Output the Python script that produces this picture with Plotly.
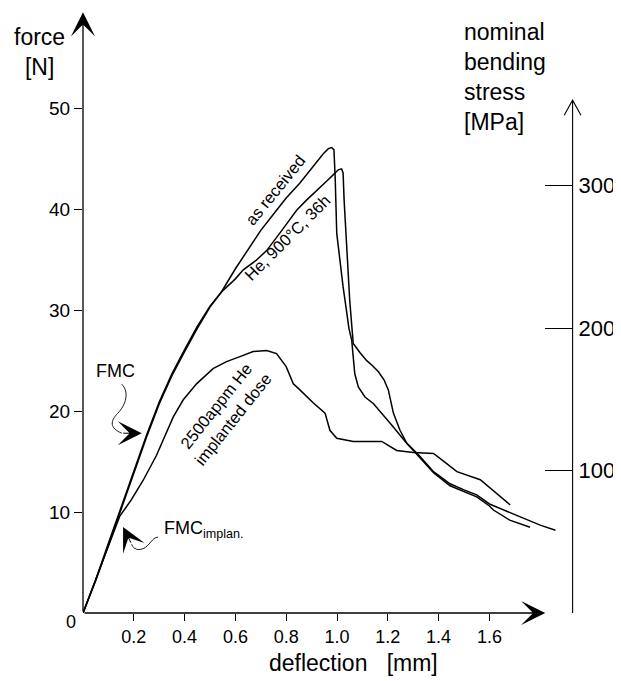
import plotly.graph_objects as go

# deflection [mm] and force [N]
recv_x = [0, 0.05, 0.10, 0.15, 0.20, 0.25, 0.30, 0.35, 0.40, 0.45,
          0.50, 0.545, 0.60, 0.657, 0.70, 0.762, 0.80, 0.854, 0.90, 0.946,
          0.966, 0.979, 0.988, 0.993, 0.999, 1.012, 1.024, 1.037, 1.047, 1.058,
          1.064, 1.070, 1.084, 1.110, 1.143, 1.176, 1.216, 1.275, 1.32, 1.38,
          1.445, 1.50, 1.55, 1.60, 1.642, 1.70, 1.75, 1.80, 1.86]
recv_f = [0, 3.2, 6.7, 10.3, 13.8, 17.4, 20.7, 23.5, 25.9, 28.2,
          30.3, 31.8, 34.1, 36.3, 37.9, 39.9, 41.1, 42.6, 44.1, 45.5,
          46.0, 46.1, 45.9, 43.0, 37.6, 34.5, 32.3, 30.0, 28.2, 27.0,
          25.5, 23.7, 22.4, 21.4, 20.75, 19.8, 18.6, 16.8, 15.7, 14.0,
          12.8, 12.2, 11.7, 10.8, 10.35, 9.8, 9.2, 8.7, 8.2]

he_x = [0, 0.05, 0.10, 0.15, 0.20, 0.25, 0.30, 0.35, 0.40, 0.45,
        0.50, 0.545, 0.60, 0.631, 0.68, 0.723, 0.78, 0.841, 0.88, 0.92,
        0.96, 0.985, 1.005, 1.018, 1.024, 1.028, 1.038, 1.05, 1.058, 1.064,
        1.09, 1.117, 1.14, 1.163, 1.185, 1.202, 1.222, 1.248, 1.275, 1.33,
        1.38, 1.445, 1.50, 1.55, 1.60, 1.616, 1.68, 1.76]
he_f = [0, 3.3, 6.9, 10.5, 14.0, 17.6, 20.9, 23.7, 26.1, 28.4,
        30.4, 31.8, 33.1, 34.0, 34.9, 35.9, 37.8, 39.9, 40.9, 41.9,
        42.8, 43.4, 43.9, 44.0, 43.6, 40.9, 36.0, 31.0, 28.5, 26.7,
        25.8, 25.0, 24.5, 23.9, 23.1, 22.1, 19.8, 18.1, 16.8, 15.3,
        13.9, 12.6, 12.0, 11.5, 10.6, 10.2, 9.2, 8.5]

impl_x = [0, 0.05, 0.10, 0.145, 0.19, 0.237, 0.289, 0.315, 0.355, 0.394,
          0.447, 0.512, 0.565, 0.618, 0.67, 0.723, 0.762, 0.80, 0.828, 0.854,
          0.894, 0.907, 0.953, 0.972, 0.999, 1.064, 1.176, 1.235, 1.30, 1.38,
          1.432, 1.472, 1.564, 1.63, 1.682]
impl_f = [0, 3.3, 6.8, 9.6, 11.2, 13.15, 15.6, 17.1, 19.4, 21.1,
          22.7, 24.2, 24.9, 25.4, 25.9, 26.0, 25.7, 24.4, 22.7, 22.1,
          21.1, 20.8, 19.8, 18.1, 17.3, 17.0, 17.0, 16.1, 15.9, 15.8,
          14.8, 14.0, 13.2, 11.8, 10.7]

x_ticks = [0.2, 0.4, 0.6, 0.8, 1.0, 1.2, 1.4, 1.6]
f_ticks = [10, 20, 30, 40, 50]
s_ticks = [100, 200, 300]

MPA_PER_N = 7.086      # nominal bending stress per newton
FONT = "Liberation Sans, Arial, Helvetica, sans-serif"

# the page body adds 8px around the figure; plot box in page pixels
BODY = 8
PLOT_L, PLOT_T, PLOT_B = 83.3, 8.0, 612.7
FIG_W, FIG_H = 621 - BODY, 681 - BODY
X_MAX = 2.0
W = X_MAX * 253.7
H = PLOT_B - PLOT_T
F_MAX = H / 10.09
X_RIGHT = 1.9275       # where the stress axis stands
ML = PLOT_L - BODY
MR = FIG_W - ML - W
MT = PLOT_T - BODY
MB = FIG_H - MT - H


def paper_x(p):
    return (p - PLOT_L) / W


def paper_y(p):
    return (PLOT_B - p) / H


fig = go.Figure()
for xs, fs in [(recv_x, recv_f), (he_x, he_f), (impl_x, impl_f)]:
    fig.add_trace(go.Scatter(x=xs, y=fs, mode="lines",
                             line=dict(color="black", width=1.5),
                             hoverinfo="skip", showlegend=False))
# registers the stress axis
fig.add_trace(go.Scatter(x=[None], y=[None], yaxis="y2", mode="lines",
                         hoverinfo="skip", showlegend=False))

fig.update_layout(
    width=FIG_W, height=FIG_H,
    margin=dict(l=ML, r=MR, t=MT, b=MB, pad=0),
    paper_bgcolor="white", plot_bgcolor="white",
    font=dict(family=FONT, color="black"),
    xaxis=dict(range=[0, X_MAX], tickvals=x_ticks, tickformat=".1f",
               ticks="outside", ticklen=7, tickwidth=1.2, tickcolor="black",
               showline=False, showgrid=False, zeroline=False,
               tickfont=dict(family=FONT, size=18, color="black"),
               automargin=False),
    yaxis=dict(range=[0, F_MAX], tickvals=f_ticks,
               ticks="outside", ticklen=8, tickwidth=1.2, tickcolor="black",
               showline=False, showgrid=False, zeroline=False,
               tickfont=dict(family=FONT, size=19, color="black"),
               automargin=False),
    yaxis2=dict(range=[0, F_MAX * MPA_PER_N], tickvals=s_ticks,
                overlaying="y", anchor="free", position=X_RIGHT / X_MAX,
                side="right", ticks="inside", ticklen=28, tickwidth=1,
                tickcolor="black", showline=False, showgrid=False,
                zeroline=False, ticklabelstandoff=5,
                tickfont=dict(family=FONT, size=22, color="black"),
                automargin=False),
)

# axis lines with arrowheads
arrow = dict(showarrow=True, arrowcolor="black", axref="x", ayref="y", text="")
fig.add_annotation(x=0, y=59.5, ax=0, ay=0, arrowhead=3, arrowwidth=1.3,
                   arrowsize=3.1, **arrow)
fig.add_annotation(x=1.82, y=0, ax=0, ay=0, arrowhead=3, arrowwidth=1.3,
                   arrowsize=3.1, **arrow)
fig.add_shape(type="path", xref="x", yref="y",
              path=f"M{X_RIGHT},0 L{X_RIGHT},50.8 "
                   f"M{X_RIGHT - 0.033},49.3 L{X_RIGHT},50.8 L{X_RIGHT + 0.033},49.3",
              line=dict(color="black", width=1.1))

# FMC pointers
fig.add_shape(type="path", xref="x", yref="y",
              path="M0.1525,22.67 C0.184,21.87 0.168,20.58 0.137,19.79 "
                   "S0.105,18.31 0.1525,17.81",
              line=dict(color="black", width=0.9))
fig.add_annotation(x=0.2314, y=17.81, ax=0.1525, ay=17.81, arrowhead=3,
                   arrowwidth=1, arrowsize=4, **arrow)
fig.add_shape(type="path", xref="x", yref="y",
              path="M0.2956,7.52 C0.2707,7.49 0.2629,6.60 0.2353,6.36 "
                   "S0.1958,6.51 0.1919,6.81",
              line=dict(color="black", width=0.9))
fig.add_annotation(x=0.1577, y=8.52, ax=0.1919, ay=6.81, arrowhead=3,
                   arrowwidth=1, arrowsize=4, **arrow)

lab = dict(showarrow=False, font=dict(family=FONT, size=16.5, color="black"))
fig.add_annotation(x=0.756, y=41.9, text="as received", textangle=-51, **lab)
fig.add_annotation(x=0.807, y=37.2, text="He, 900°C, 36h", textangle=-45, **lab)
fig.add_annotation(x=0.555, y=19.9, text="2500appm He<br>implanted dose",
                   textangle=-51.5, **lab)

big = dict(showarrow=False, xref="paper", yref="paper", yanchor="middle",
           font=dict(family=FONT, size=18, color="black"))
fig.add_annotation(x=paper_x(116), y=paper_y(371), xanchor="center",
                   text="FMC", **big)
fig.add_annotation(x=paper_x(162), y=paper_y(529), xanchor="left",
                   text="FMC<sub>implan.</sub>", **big)
fig.add_annotation(x=paper_x(71), y=paper_y(622), xanchor="center",
                   text="0", **big)

title = dict(showarrow=False, xref="paper", yref="paper", yanchor="middle",
             font=dict(family=FONT, size=23, color="black"))
fig.add_annotation(x=paper_x(40), y=paper_y(52), xanchor="center",
                   text="force<br>[N]", align="center", **title)
fig.add_annotation(x=paper_x(462), y=paper_y(77), xanchor="left",
                   text="nominal<br>bending<br>stress<br>[MPa]", align="left", **title)
fig.add_annotation(x=paper_x(353), y=paper_y(663), xanchor="center",
                   text="deflection&nbsp;&nbsp;&nbsp;[mm]", **title)

fig.write_html("out.html")
